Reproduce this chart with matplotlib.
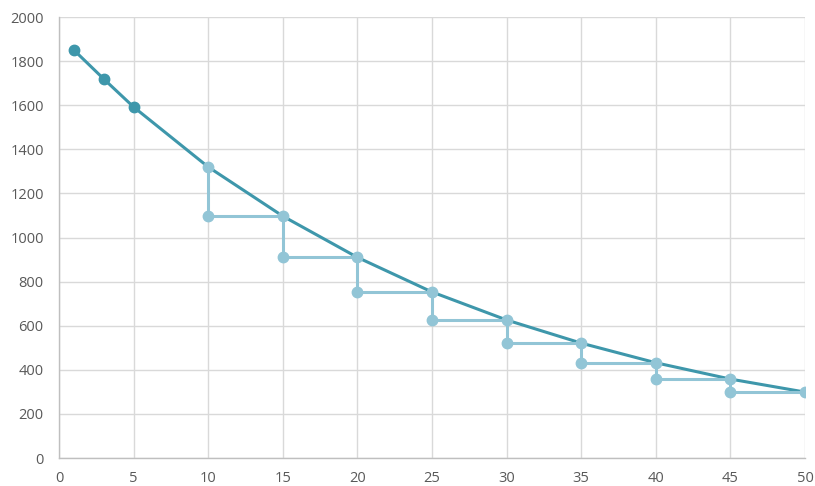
import matplotlib
matplotlib.use("Agg")
import matplotlib.pyplot as plt

# Smooth decay curve (dark teal)
curve_x = [1, 3, 5, 10, 15, 20, 25, 30, 35, 40, 45, 50]
curve_y = [1850, 1719, 1592, 1320, 1097, 910, 753, 626, 521, 432, 358, 299]
# Dark marker points
dark_x = [1, 3, 5]
dark_y = [1850, 1719, 1592]
# Step series (light blue)
step_x = [10, 10, 15, 15, 20, 20, 25, 25, 30, 30, 35, 35, 40, 40, 45, 45, 50]
step_y = [1320, 1097, 1097, 910, 910, 753, 753, 626, 626, 521, 521, 432, 432, 358, 358, 299, 299]

x_ticks = [0, 5, 10, 15, 20, 25, 30, 35, 40, 45, 50]
y_ticks = [0, 200, 400, 600, 800, 1000, 1200, 1400, 1600, 1800, 2000]

dark = "#3E97AB"
light = "#92C5D6"

plt.rcParams['font.family'] = ['Open Sans', 'DejaVu Sans']

fig = plt.figure(figsize=(8.15, 4.86), dpi=100)
ax = fig.add_axes([0.0724, 0.0576, 0.9153, 0.9074])

ax.plot(curve_x, curve_y, color=dark, lw=2.2, zorder=3, solid_capstyle='round')
ax.plot(step_x, step_y, color=light, lw=2.2, marker='o', markersize=7.5,
        markerfacecolor=light, markeredgecolor=light, zorder=4)
ax.plot(dark_x, dark_y, linestyle='none', marker='o', markersize=7.5,
        markerfacecolor=dark, markeredgecolor=dark, zorder=5)

ax.set_xlim(0, 50)
ax.set_ylim(0, 2000)
ax.set_xticks(x_ticks)
ax.set_yticks(y_ticks)
ax.grid(True, color="#D9D9D9", lw=1)
ax.set_axisbelow(True)
for s in ['top', 'right']:
    ax.spines[s].set_visible(False)
for s in ['left', 'bottom']:
    ax.spines[s].set_color("#BFBFBF")
    ax.spines[s].set_linewidth(1)
ax.tick_params(length=0, colors="#595959", labelsize=10.5)
ax.tick_params(axis='y', pad=11)
ax.tick_params(axis='x', pad=9)

fig.savefig("out.png", dpi=100)
